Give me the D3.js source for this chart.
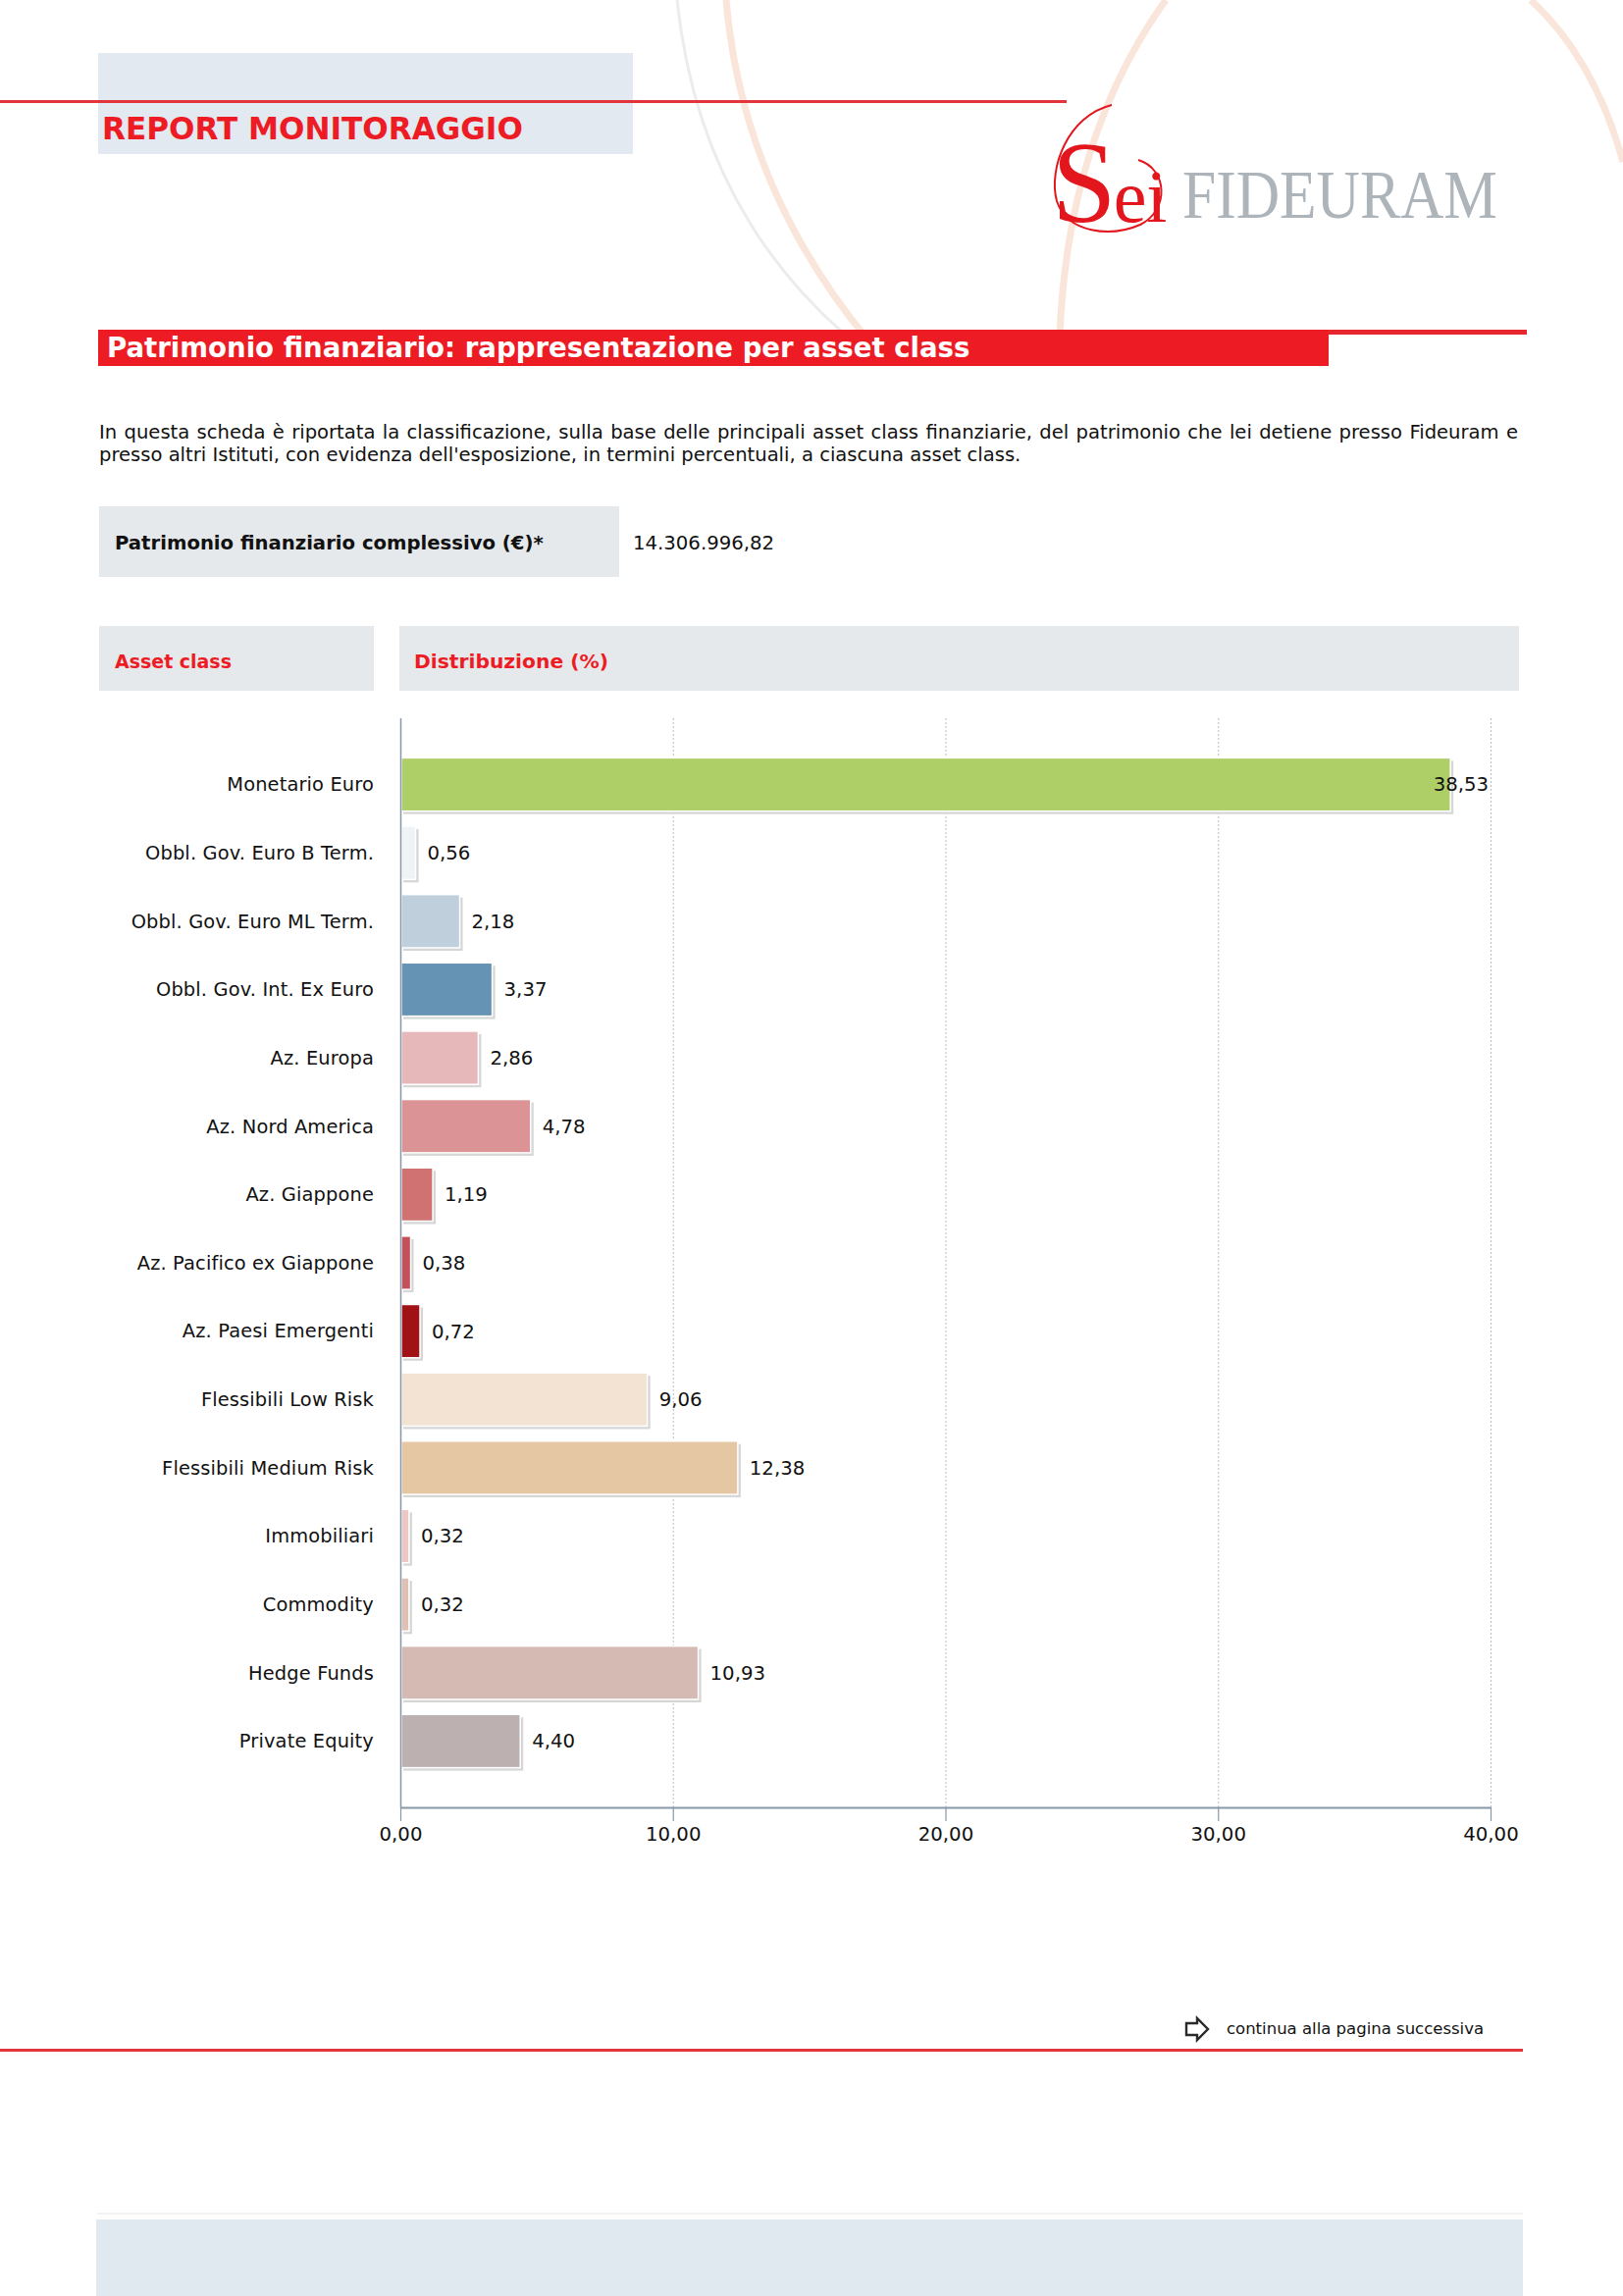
<!DOCTYPE html>
<html>
<head>
<meta charset="utf-8">
<script src="https://cdn.jsdelivr.net/npm/d3@7"></script>
<style>
  body { margin: 0; background: #fff; }
  svg { display: block; }
</style>
</head>
<body>
<svg id="page"></svg>
<script>
const categories = [
  'Monetario Euro', 'Obbl. Gov. Euro B Term.', 'Obbl. Gov. Euro ML Term.', 'Obbl. Gov. Int. Ex Euro',
  'Az. Europa', 'Az. Nord America', 'Az. Giappone', 'Az. Pacifico ex Giappone', 'Az. Paesi Emergenti',
  'Flessibili Low Risk', 'Flessibili Medium Risk', 'Immobiliari', 'Commodity', 'Hedge Funds', 'Private Equity'
]
const values = [38.53, 0.56, 2.18, 3.37, 2.86, 4.78, 1.19, 0.38, 0.72, 9.06, 12.38, 0.32, 0.32, 10.93, 4.40]
const palette = [
  '#aecf68', '#eef3f6', '#bfcfdc', '#6593b4', '#e6b8b9', '#dc9395', '#d07272', '#c4505a', '#a01216',
  '#f3e3d3', '#e5c7a4', '#ecc7c4', '#dfc0b5', '#d4bab3', '#bdb0b0'
]
const tickValues = [0, 10, 20, 30, 40]
const totalValue = 14306996.82
const introLines = [
  'In questa scheda è riportata la classificazione, sulla base delle principali asset class finanziarie, del patrimonio che lei detiene presso Fideuram e',
  'presso altri Istituti, con evidenza dell\'esposizione, in termini percentuali, a ciascuna asset class.'
]

const W = 1654
const H = 2340
const RED = '#ed1c24'
const FONT = '"DejaVu Sans", Verdana, sans-serif'

const it = d3.formatLocale({ decimal: ',', thousands: '.', grouping: [3], currency: ['€', ''] })
const fmt2 = it.format(',.2f')

const svg = d3.select('#page')
  .attr('width', W)
  .attr('height', H)
  .attr('font-family', FONT)

// set the font size so a text gets a given width
function fitFont (sel, width) {
  sel.style('font-size', '100px')
  const w = sel.node().getComputedTextLength()
  const size = 100 * width / w
  sel.style('font-size', size + 'px')
  return size
}

/* ---------- background decoration ---------- */
const deco = svg.append('g').attr('fill', 'none')
deco.append('path').attr('d', 'M690,0 Q712,210 860,340').attr('stroke', '#ececec').attr('stroke-width', 3)
deco.append('path').attr('d', 'M740,0 Q756,190 884,346').attr('stroke', '#f8dccd').attr('stroke-width', 7).attr('opacity', 0.75)
deco.append('path').attr('d', 'M1188,0 Q1088,140 1080,342').attr('stroke', '#f8dccd').attr('stroke-width', 7).attr('opacity', 0.75)
deco.append('path').attr('d', 'M1560,0 Q1625,60 1654,165').attr('stroke', '#f8dccd').attr('stroke-width', 7).attr('opacity', 0.75)

/* ---------- header ---------- */
svg.append('rect').attr('x', 100).attr('y', 54).attr('width', 545).attr('height', 103).attr('fill', '#e2e9f0')
svg.append('rect').attr('x', 0).attr('y', 102).attr('width', 1087).attr('height', 3).attr('fill', '#e2353b')

const reportTitle = svg.append('text')
  .attr('x', 104).attr('y', 142)
  .attr('fill', RED).attr('font-weight', 'bold')
  .text('REPORT MONITORAGGIO')
fitFont(reportTitle, 429)

// logo
const logo = svg.append('g')
logo.append('path')
  .attr('d', 'M1133,107 C1088,118 1068,172 1077,205 C1088,238 1132,242 1162,229 C1192,214 1190,172 1160,163')
  .attr('fill', 'none').attr('stroke', '#e3161d').attr('stroke-width', 2)
const sei = logo.append('text')
  .attr('x', 1072).attr('y', 226)
  .attr('font-family', '"Liberation Serif", serif')
  .attr('fill', '#e3161d')
sei.append('tspan').attr('font-size', 118).text('S')
sei.append('tspan').attr('font-size', 76).attr('dx', -3).text('ei')
logo.append('text')
  .attr('x', 1205).attr('y', 222)
  .attr('font-family', '"Liberation Serif", serif')
  .attr('font-size', 70).attr('fill', '#adb5bb')
  .attr('textLength', 321).attr('lengthAdjust', 'spacingAndGlyphs')
  .text('FIDEURAM')

/* ---------- section title ---------- */
svg.append('rect').attr('x', 100).attr('y', 336).attr('width', 1456).attr('height', 5).attr('fill', '#e8262d')
svg.append('rect').attr('x', 100).attr('y', 336).attr('width', 1254).attr('height', 37).attr('fill', RED)
const bandTitle = svg.append('text')
  .attr('x', 109).attr('y', 364)
  .attr('fill', '#fff').attr('font-weight', 'bold')
  .text('Patrimonio finanziario: rappresentazione per asset class')
fitFont(bandTitle, 880)

/* ---------- intro paragraph ---------- */
const line2 = svg.append('text')
  .attr('x', 101).attr('y', 470).attr('fill', '#111')
  .text(introLines[1])
const bodySize = fitFont(line2, 940)
const line1 = svg.append('text')
  .attr('x', 101).attr('y', 447).attr('fill', '#111')
  .style('font-size', bodySize + 'px')
  .text(introLines[0])
const natural = line1.node().getComputedTextLength()
const gaps = introLines[0].split(' ').length - 1
line1.style('word-spacing', ((1446 - natural) / gaps) + 'px')

/* ---------- total ---------- */
svg.append('rect').attr('x', 101).attr('y', 516).attr('width', 530).attr('height', 72).attr('fill', '#e6e9eb')
const totLabel = svg.append('text')
  .attr('x', 117).attr('y', 553).attr('dy', '0.35em')
  .attr('font-weight', 'bold').attr('fill', '#111')
  .text('Patrimonio finanziario complessivo (€)*')
fitFont(totLabel, 437)
svg.append('text')
  .attr('x', 645).attr('y', 553).attr('dy', '0.35em')
  .style('font-size', '19.7px').attr('fill', '#111')
  .text(fmt2(totalValue))

/* ---------- table header ---------- */
svg.append('rect').attr('x', 101).attr('y', 638).attr('width', 280).attr('height', 66).attr('fill', '#e6e9eb')
svg.append('rect').attr('x', 407).attr('y', 638).attr('width', 1141).attr('height', 66).attr('fill', '#e6e9eb')
const h1 = svg.append('text')
  .attr('x', 117).attr('y', 674).attr('dy', '0.35em')
  .attr('font-weight', 'bold').attr('fill', RED)
  .text('Asset class')
fitFont(h1, 119)
const h2 = svg.append('text')
  .attr('x', 422).attr('y', 674).attr('dy', '0.35em')
  .attr('font-weight', 'bold').attr('fill', RED)
  .text('Distribuzione (%)')
fitFont(h2, 198)

/* ---------- chart ---------- */
const x = d3.scaleLinear().domain([0, 40]).range([408, 1519])
const y = d3.scaleBand().domain(categories).range([732, 1842]).paddingInner(0.22).paddingOuter(0.58)
const color = d3.scaleOrdinal().domain(categories).range(palette)
const data = categories.map((c, i) => ({ cat: c, value: values[i] }))
const [plotTop, plotBottom] = y.range()

const chart = svg.append('g')

chart.append('g')
  .selectAll('line')
  .data(tickValues.filter(t => t > 0))
  .join('line')
  .attr('x1', d => x(d) + 0.5).attr('x2', d => x(d) + 0.5)
  .attr('y1', plotTop).attr('y2', plotBottom)
  .attr('stroke', '#bdbdbd').attr('stroke-width', 1)
  .attr('stroke-dasharray', '2,2')

const bars = chart.append('g')
  .selectAll('g')
  .data(data)
  .join('g')

bars.append('rect')
  .attr('x', x(0) + 3)
  .attr('y', d => y(d.cat) + 3)
  .attr('width', d => Math.max(x(d.value) - x(0), 2))
  .attr('height', y.bandwidth())
  .attr('fill', '#d6d6d6')

bars.append('rect')
  .attr('x', x(0) + 1)
  .attr('y', d => y(d.cat))
  .attr('width', d => Math.max(x(d.value) - x(0) - 1, 1))
  .attr('height', y.bandwidth())
  .attr('fill', d => color(d.cat))
  .attr('stroke', '#fff').attr('stroke-width', 1.5)

bars.append('text')
  .attr('y', d => y(d.cat) + y.bandwidth() / 2)
  .attr('dy', '0.35em')
  .style('font-size', '19.7px').attr('fill', '#111')
  .text(d => fmt2(d.value))
  .each(function (d) {
    const w = this.getComputedTextLength()
    const pos = Math.min(x(d.value) + 12, x.range()[1] - w - 2)
    d3.select(this).attr('x', pos)
  })

chart.append('g')
  .selectAll('text')
  .data(data)
  .join('text')
  .attr('x', x(0) - 27)
  .attr('y', d => y(d.cat) + y.bandwidth() / 2)
  .attr('dy', '0.35em')
  .attr('text-anchor', 'end')
  .style('font-size', '19.4px').style('letter-spacing', '0.15px').attr('fill', '#111')
  .text(d => d.cat)

// left axis line
chart.append('line')
  .attr('x1', x(0) + 0.5).attr('x2', x(0) + 0.5)
  .attr('y1', plotTop).attr('y2', plotBottom)
  .attr('stroke', '#8797a8').attr('stroke-width', 1.5)

const axis = chart.append('g')
  .attr('transform', `translate(0,${plotBottom})`)
  .call(d3.axisBottom(x).tickValues(tickValues).tickFormat(fmt2).tickSize(14).tickSizeOuter(0).tickPadding(6))
axis.select('.domain').attr('stroke', '#8797a8').attr('stroke-width', 2)
axis.selectAll('.tick line').attr('stroke', '#8797a8').attr('stroke-width', 1.2)
axis.selectAll('.tick text')
  .attr('font-family', FONT)
  .style('font-size', '19.7px').attr('fill', '#111')

/* ---------- footer ---------- */
svg.append('path')
  .attr('d', 'M1209,2062 H1220 V2057 L1231,2068 L1220,2079 V2074 H1209 Z')
  .attr('fill', '#fff').attr('stroke', '#2a2a2a').attr('stroke-width', 2.4)
  .attr('stroke-linejoin', 'miter')
svg.append('text')
  .attr('x', 1250).attr('y', 2067).attr('dy', '0.35em')
  .style('font-size', '16.5px').attr('fill', '#111')
  .text('continua alla pagina successiva')
svg.append('rect').attr('x', 0).attr('y', 2088).attr('width', 1552).attr('height', 3).attr('fill', '#e2353b')

svg.append('rect').attr('x', 99).attr('y', 2255).attr('width', 1453).attr('height', 2).attr('fill', '#f3f3f3')
svg.append('rect').attr('x', 98).attr('y', 2262).attr('width', 1454).attr('height', 78).attr('fill', '#e1e9f0')
</script>
</body>
</html>
